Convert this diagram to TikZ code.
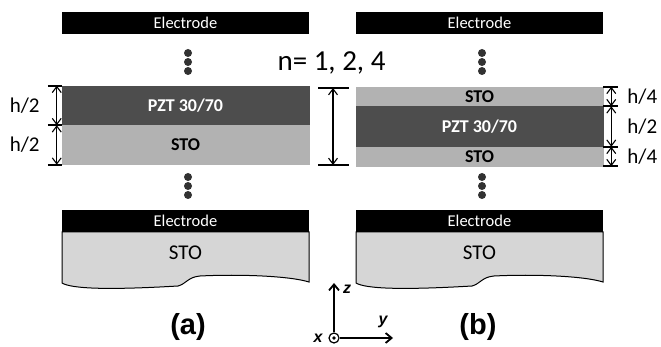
\documentclass[tikz,border=0pt]{standalone}
\usepackage{fontspec}
\setmainfont{Carlito}
\newfontfamily\arialfont{Liberation Sans}
\usetikzlibrary{arrows.meta,positioning}
\definecolor{pztfill}{RGB}{77,77,77}
\definecolor{stofill}{RGB}{178,178,178}
\definecolor{subfill}{RGB}{214,214,214}
\definecolor{dotfill}{RGB}{50,50,50}
\tikzset{
  electrode/.style={
    fill=black,
    text=white,
    minimum width=247pt,
    minimum height=22pt,
    inner sep=0pt,
    font=\fontsize{16.5}{16.5}\selectfont
  },
  pztlayer/.style={
    fill=pztfill,
    draw=pztfill,
    line width=0.5pt,
    text=white,
    minimum width=247pt,
    inner sep=0pt,
    font=\bfseries\fontsize{18}{18}\selectfont
  },
  stolayer/.style={
    fill=stofill,
    draw=stofill,
    line width=0.5pt,
    text=black,
    minimum width=247pt,
    inner sep=0pt,
    font=\bfseries\fontsize{18}{18}\selectfont
  },
  substrate/.style={draw=black, line width=1pt, fill=subfill},
  dimlabel/.style={font=\fontsize{21}{21}\selectfont, inner sep=0pt},
  dimtick/.style={line width=1.6pt},
  dimarrow/.style={{Straight Barb[length=6pt,width=9pt]}-{Straight Barb[length=6pt,width=9pt]}, line width=1.1pt},
  axisarrow/.style={-{Straight Barb[length=6pt,width=10pt]}, line width=1.8pt},
  axislabel/.style={font=\arialfont\bfseries\itshape\fontsize{16}{16}\selectfont},
  panellabel/.style={font=\arialfont\bfseries\fontsize{29}{29}\selectfont}
}

\begin{document}
\begin{tikzpicture}[x=1pt,y=-1pt]
  \useasboundingbox (0,0) rectangle (661,347);

  % top electrodes
  \node[electrode] (elA) at (185.5,23) {Electrode};
  \node[electrode] (elB) at (479.5,23) {Electrode};

  % (a) bilayer
  \node[pztlayer, minimum height=39pt] (pztA) at (185.5,105.5) {PZT 30/70};
  \node[stolayer, minimum height=39pt, below=0pt of pztA] (stoA) {STO};

  % (b) trilayer
  \node[stolayer, minimum height=19pt] (stoB1) at (479.5,96.5) {STO};
  \node[pztlayer, minimum height=40pt, below=0pt of stoB1] (pztB) {PZT 30/70};
  \node[stolayer, minimum height=19pt, below=0pt of pztB] (stoB2) {STO};

  % dots, bottom electrode and substrate
  \foreach \dx/\p in {0/A,294/B}{
    \begin{scope}[xshift=\dx]
      \foreach \y in {53,62,71,177,186,195}
        \fill[dotfill] (188,\y) circle (4pt);
      \draw[substrate] (62,232) -- (62,283)
        .. controls (72,289) and (110,290) .. (178,286)
        .. controls (186,284) and (188,277) .. (200,276)
        .. controls (240,274) and (290,276) .. (309,282) -- (309,232) -- cycle;
      \node[electrode] (bot\p) at (185.5,221) {Electrode};
      \node[font=\fontsize{21}{21}\selectfont] (sub\p) at (185.5,253) {STO};
    \end{scope}
  }

  % thickness marks (a)
  \foreach \n/\a in {pztA/north west,pztA/south west,stoA/south west}
    \draw[dimtick] ([xshift=-14pt]\n.\a) -- (\n.\a);
  \draw[dimarrow] ([xshift=-5pt]pztA.north west) -- ([xshift=-5pt]pztA.south west);
  \draw[dimarrow] ([xshift=-5pt]stoA.north west) -- ([xshift=-5pt]stoA.south west);
  \node[dimlabel, left=22pt of pztA.west] (hA1) {h/2};
  \node[dimlabel, left=22pt of stoA.west] (hA2) {h/2};

  % thickness marks (b)
  \foreach \n/\a in {stoB1/north east,pztB/north east,pztB/south east,stoB2/south east}
    \draw[dimtick] (\n.\a) -- ([xshift=15pt]\n.\a);
  \foreach \n in {stoB1,pztB,stoB2}
    \draw[dimarrow] ([xshift=8pt]\n.north east) -- ([xshift=8pt]\n.south east);
  \node[dimlabel, right=24pt of stoB1.east] (hB1) {h/4};
  \node[dimlabel, right=24pt of pztB.east] (hB2) {h/2};
  \node[dimlabel, right=24pt of stoB2.east] (hB3) {h/4};

  % period
  \node[font=\fontsize{29}{29}\selectfont] (nlabel) at (331.5,63) {n= 1, 2, 4};
  \coordinate (mtop) at (333,88);
  \coordinate (mbot) at (333,165);
  \draw[dimtick] ([xshift=-15pt]mtop) -- ([xshift=16pt]mtop);
  \draw[dimtick] ([xshift=-15pt]mbot) -- ([xshift=16pt]mbot);
  \draw[dimarrow] (mtop) -- (mbot);

  % axes
  \node[draw, circle, line width=1.2pt, minimum size=10pt, inner sep=0pt] (xdot) at (334,338) {};
  \fill (xdot.center) circle (1.8pt);
  \coordinate (ztip) at (334,283);
  \coordinate (ytip) at (393,338);
  \draw[axisarrow] (xdot) -- (ztip);
  \draw[axisarrow] (xdot) -- (ytip);
  \node[axislabel] (zlab) at (347,289) {z};
  \node[axislabel] (ylab) at (383,322) {y};
  \node[axislabel] (xlab) at (318,338) {x};

  % panel labels
  \node[panellabel] (labA) at (188,327) {(a)};
  \node[panellabel] (labB) at (478,327) {(b)};
\end{tikzpicture}
\end{document}
